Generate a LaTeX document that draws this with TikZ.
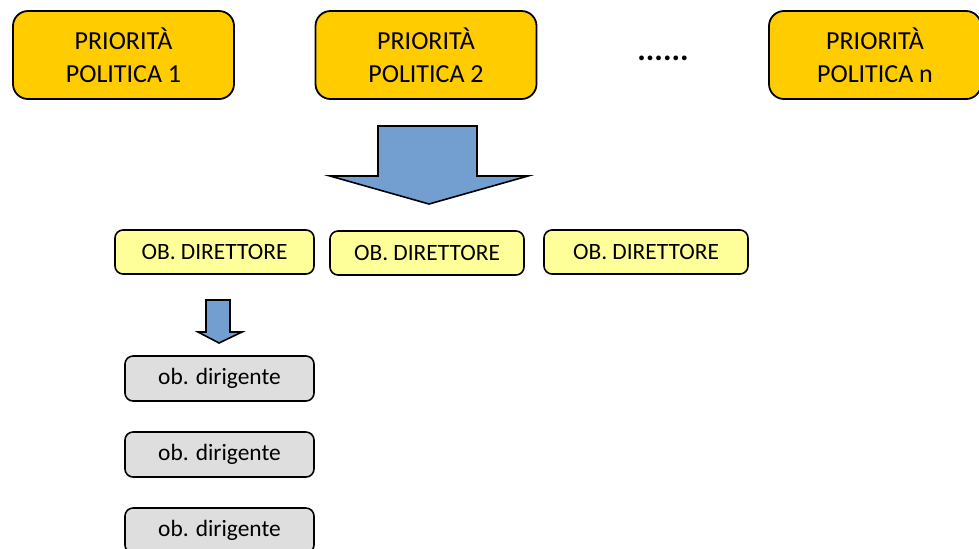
\documentclass[tikz,border=0pt]{standalone}
\usepackage{fontspec}
\setmainfont{Carlito}
\definecolor{prioColor}{RGB}{255,204,0}
\definecolor{dirColor}{RGB}{255,255,153}
\definecolor{digColor}{RGB}{222,222,222}
\definecolor{arrowColor}{RGB}{114,159,207}
\tikzset{
  priority/.style={draw, line width=0.9pt, rounded corners=7.5pt, fill=prioColor,
    align=center, minimum width=110.5pt, minimum height=44pt, inner sep=0pt,
    font=\fontsize{13}{16.5}\selectfont},
  direttore/.style={draw, line width=0.8pt, rounded corners=4pt, fill=dirColor,
    minimum height=22pt, inner sep=0pt, font=\fontsize{11.7}{14}\selectfont},
  dirigente/.style={draw, line width=0.8pt, rounded corners=4pt, fill=digColor,
    minimum width=94.5pt, minimum height=22.5pt, inner sep=0pt,
    font=\fontsize{11.7}{14}\selectfont},
  blockarrow/.style={draw, line width=0.8pt, fill=arrowColor, line join=miter}
}
\begin{document}
\begin{tikzpicture}[x=0.5pt,y=-0.5pt]
  \useasboundingbox (0,0) rectangle (979,548);
  % priorita' politiche
  \node[priority] (p1) at (123.5,55) {PRIORITÀ\\POLITICA 1};
  \node[priority] (p2) at (426,55) {PRIORITÀ\\POLITICA 2};
  \node (dots) at (663,58) {\fontsize{16}{16}\selectfont\textbf{......}};
  \node[priority, minimum width=106pt] (pn) at (875,55) {PRIORITÀ\\POLITICA n};
  % freccia grande
  \draw[blockarrow] (378,126) -- (477,126) -- (477,176) -- (528,176)
    -- (429,204) -- (330,176) -- (378,176) -- cycle;
  % obiettivi direttore
  \node[direttore, minimum width=99.5pt] (d1) at (214.5,252) {OB. DIRETTORE};
  \node[direttore, minimum width=97pt] (d2) at (427,253) {OB. DIRETTORE};
  \node[direttore, minimum width=102pt] (d3) at (646,252) {OB. DIRETTORE};
  % freccia piccola
  \draw[blockarrow] (206,300) -- (230,300) -- (230,332) -- (242,332)
    -- (219,343) -- (198,332) -- (206,332) -- cycle;
  % obiettivi dirigente
  \node[dirigente] (g1) at (219.5,378.5) {ob. dirigente};
  \node[dirigente] (g2) at (219.5,454.5) {ob. dirigente};
  \node[dirigente] (g3) at (219.5,530.5) {ob. dirigente};
\end{tikzpicture}
\end{document}
